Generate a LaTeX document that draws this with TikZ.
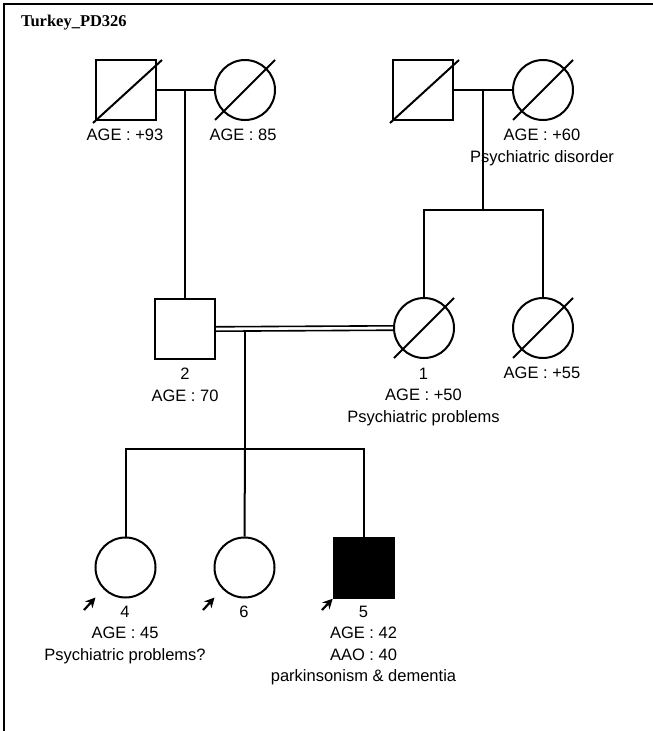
\documentclass[tikz,border=0pt]{standalone}
\usepackage{fontspec}
\setmainfont{Liberation Sans}
\newfontfamily\titlefont{Liberation Serif}
\usetikzlibrary{arrows.meta}
\begin{document}
\begin{tikzpicture}[x=1pt,y=-1pt,
  line width=2pt,
  male/.style={draw,rectangle,minimum size=60pt,inner sep=0pt},
  female/.style={draw,circle,minimum size=60pt,inner sep=0pt},
  affected/.style={fill=black},
  lbl/.style={anchor=north,align=center,inner sep=0pt,font=\fontsize{16.5}{21.5}\selectfont},
  rel/.style={line width=2pt},
  proband/.style={-{Stealth[length=10pt,width=10pt]},line width=2.2pt}
]
\useasboundingbox (0,0) rectangle (653,731);
\draw[line width=2.4pt] (4,731) -- (4,4) -- (653,4);
\node[anchor=west,inner sep=0pt,font=\titlefont\bfseries\fontsize{16.5}{20}\selectfont] (title) at (20,23) {Turkey\_PD326};

% generation I
\node[male] (gf1) at (126,90) {};
\node[female] (gm1) at (245,90) {};
\node[male] (gf2) at (423,90) {};
\node[female] (gm2) at (543,90) {};
% generation II
\node[male] (p2) at (185,329) {};
\node[female] (p1) at (424,328) {};
\node[female] (s1) at (543,328) {};
% generation III
\node[female] (c4) at (125.5,567.5) {};
\node[female] (c6) at (244.5,567.5) {};
\node[male,affected] (c5) at (363.7,567.7) {};

% deceased slashes
\foreach \n in {gm1,gm2,p1,s1}{
  \draw ([shift={(-30,30)}]\n.center) -- ([shift={(30,-30)}]\n.center);
}
\foreach \n in {gf1,gf2}{
  \draw ([shift={(-33,33)}]\n.center) -- ([shift={(36,-30)}]\n.center);
}

% couples and descents
\draw[rel] (gf1.east) -- (gm1.west);
\coordinate (m1) at (185,90);
\draw[rel] (m1) -- (p2.north);
\draw[rel] (gf2.east) -- (gm2.west);
\coordinate (m2) at (483,90);
\coordinate (sb2) at (483,210);
\draw[rel] (m2) -- (sb2);
\draw[rel] (p1.north) |- (sb2) -| (s1.north);

% consanguineous marriage
\draw[line width=1.6pt] ([yshift=-2.2pt]p2.east) -- ([yshift=-2.2pt]p1.west);
\draw[line width=1.6pt] ([yshift=2.2pt]p2.east) -- ([yshift=2.2pt]p1.west);
\coordinate (m3) at (245,331);
\coordinate (sb3) at (245,449);
\draw[rel] (m3) -- (sb3);
\draw[rel] (c4.north) |- (sb3) -| (c5.north);
\draw[rel] (sb3) -- (c6.north);

% proband arrows
\coordinate (a4) at (84,610);
\coordinate (a6) at (203,610);
\coordinate (a5) at (322,610);
\draw[proband] (a4) -- ([shift={(-30,30)}]c4.center);
\draw[proband] (a6) -- ([shift={(-30,30)}]c6.center);
\draw[proband] (a5) -- (c5.south west);

% labels
\node[lbl] (l1) at (125,128) {AGE : +93};
\node[lbl] (l2) at (243,128) {AGE : 85};
\node[lbl] (l3) at (542,128) {AGE : +60\\Psychiatric disorder};
\node[lbl] (l4) at (185,367) {2\\AGE : 70};
\node[lbl] (l5) at (423.5,367) {1\\AGE : +50\\Psychiatric problems};
\node[lbl] (l6) at (542,366) {AGE : +55};
\node[lbl] (l7) at (125,605) {4\\AGE : 45\\Psychiatric problems?};
\node[lbl] (l8) at (244,605) {6};
\node[lbl] (l9) at (363.5,605) {5\\AGE : 42\\AAO : 40\\parkinsonism \& dementia};
\end{tikzpicture}
\end{document}
